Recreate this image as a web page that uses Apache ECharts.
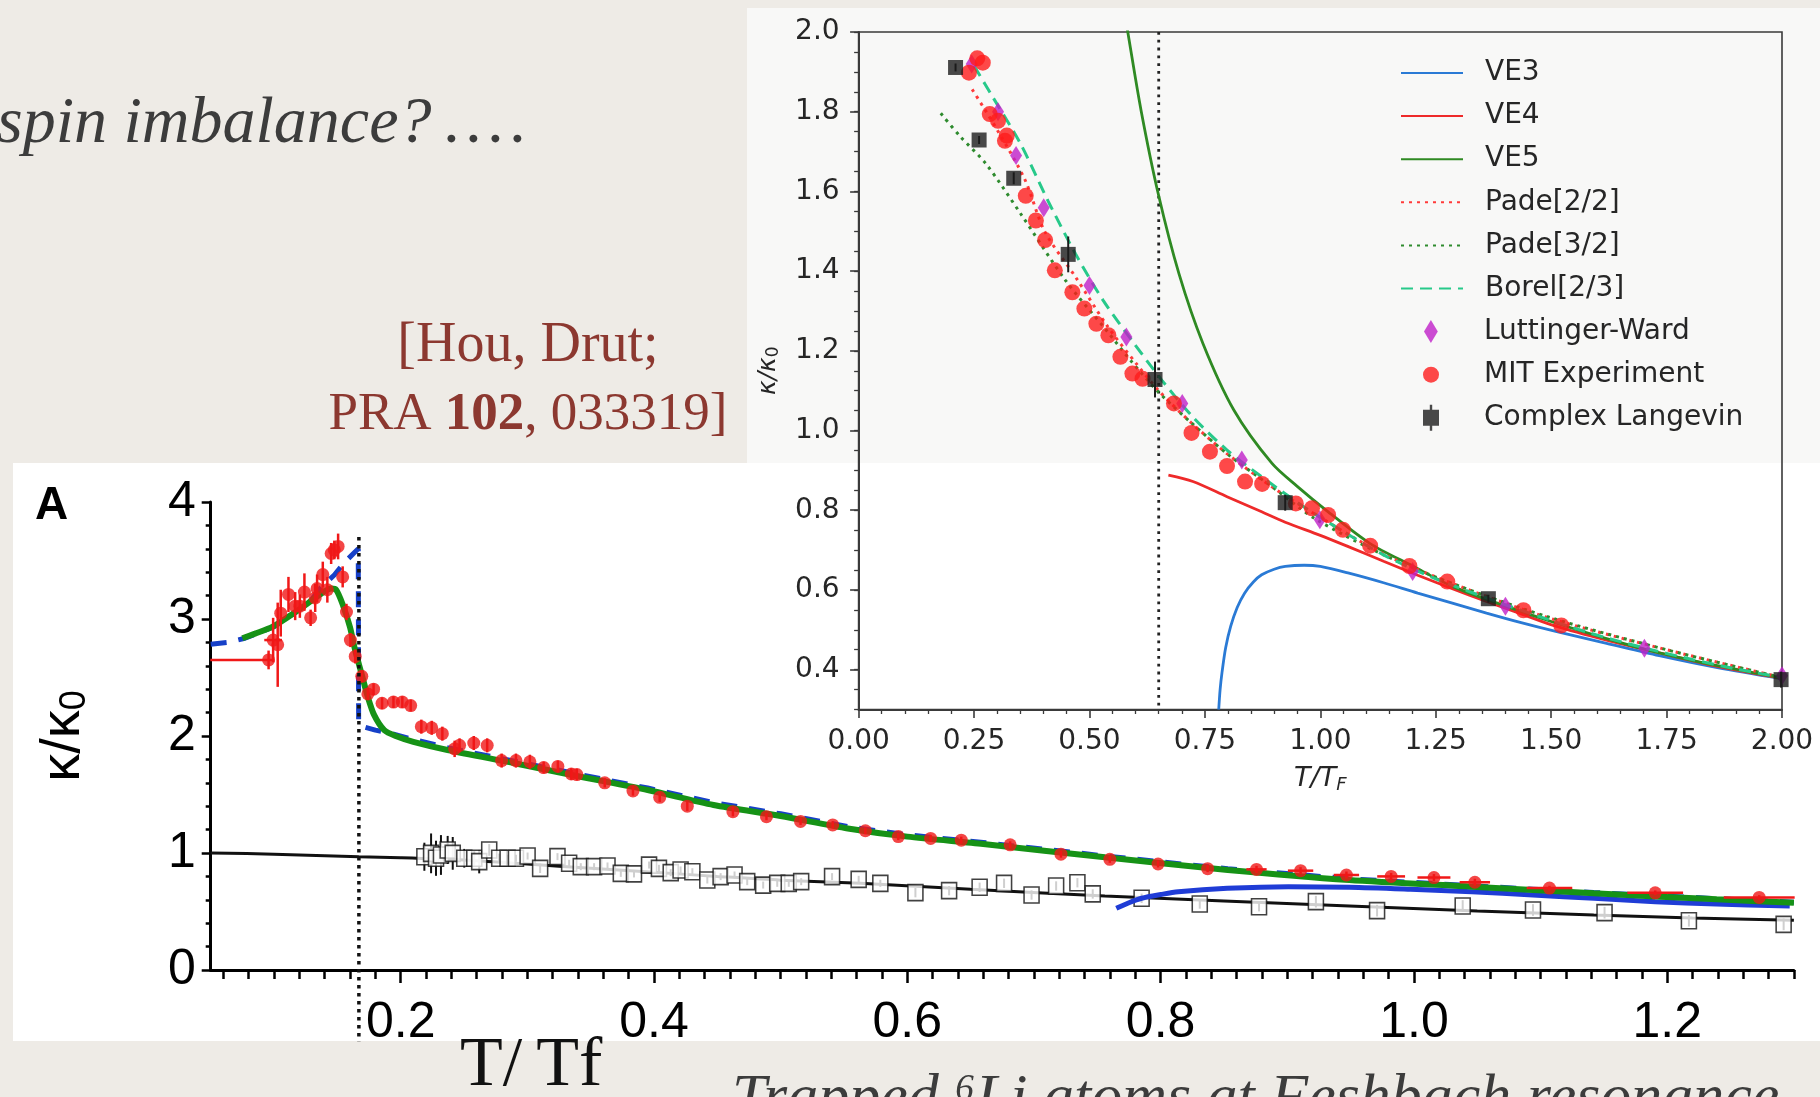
<!DOCTYPE html>
<html>
<head>
<meta charset="utf-8">
<script src="https://cdn.jsdelivr.net/npm/echarts@6/dist/echarts.min.js"></script>
<style>
  html, body { margin: 0; padding: 0; background: #eeebe6; }
  #chart { width: 1820px; height: 1097px; }
</style>
</head>
<body>
<div id="chart"></div>
<script>
// ---------- Panel A: kappa/kappa0 vs T/Tf (trapped gas) ----------
const mainXLabels = [0.2, 0.4, 0.6, 0.8, 1.0, 1.2];
const mainTc = 0.167;

// superfluid-side measurement (red points with error bars)
const expT = [0.0957, 0.0993, 0.1029, 0.1053, 0.1114, 0.1167, 0.1204, 0.124, 0.1289, 0.1325,
  0.134, 0.1385, 0.1421, 0.1451, 0.1476, 0.1506, 0.1542, 0.1572, 0.1603, 0.1641,
  0.1693, 0.1741, 0.1786, 0.1853, 0.1943, 0.2013, 0.2079, 0.2163, 0.2245, 0.2329,
  0.2426, 0.2465, 0.2577, 0.2683, 0.2797, 0.291, 0.302, 0.3129, 0.3241, 0.3347,
  0.3391, 0.3611, 0.3834, 0.4045, 0.4263, 0.4623, 0.4888, 0.5157, 0.5411, 0.5669,
  0.5929, 0.6184, 0.6426, 0.6812, 0.7213, 0.7599, 0.798, 0.8371, 0.8757, 0.9105,
  0.9467, 0.982, 1.0158, 1.0481, 1.107, 1.1905, 1.2726];
const expK = [2.65, 2.82, 2.78, 3.05, 3.21, 3.11, 3.11, 3.23, 3.01, 3.18,
  3.26, 3.38, 3.25, 3.56, 3.59, 3.62, 3.36, 3.06, 2.82, 2.68,
  2.51, 2.36, 2.40, 2.28, 2.29, 2.29, 2.26, 2.08, 2.07, 2.02,
  1.89, 1.92, 1.94, 1.92, 1.79, 1.79, 1.78, 1.73, 1.74, 1.675,
  1.67, 1.60, 1.53, 1.476, 1.40, 1.353, 1.31, 1.27, 1.24, 1.19,
  1.14, 1.125, 1.11, 1.07, 0.99, 0.946, 0.906, 0.866, 0.86, 0.849,
  0.812, 0.80, 0.79, 0.75, 0.70, 0.66, 0.62];
const expErrK = [0.08, 0.19, 0.36, 0.20, 0.15, 0.12, 0.10, 0.16, 0.07, 0.12,
  0.12, 0.11, 0.11, 0.09, 0.08, 0.11, 0.09, 0.07, 0.06, 0.06,
  0.05, 0.05, 0.05, 0.05, 0.05, 0.05, 0.05, 0.06, 0.06, 0.06,
  0.07, 0.06, 0.06, 0.06, 0.06, 0.06, 0.06, 0.05, 0.05, 0.05,
  0.05, 0.04, 0.04, 0.04, 0.04, 0.04, 0.03, 0.03, 0.03, 0.03,
  0.03, 0.03, 0.03, 0.03, 0.03, 0.03, 0.03, 0.03, 0.03, 0.03,
  0.03, 0.03, 0.03, 0.03, 0.02, 0.02, 0.02];
const expErrTLo = [0.046, 0.007, 0, 0, 0, 0, 0, 0, 0, 0,
  0, 0, 0, 0, 0, 0, 0, 0, 0, 0,
  0, 0, 0, 0, 0, 0, 0, 0, 0, 0,
  0, 0, 0, 0, 0, 0, 0, 0, 0, 0,
  0, 0, 0, 0, 0, 0, 0, 0, 0, 0,
  0, 0, 0, 0, 0, 0, 0, 0, 0.008, 0.01,
  0.01, 0.011, 0.013, 0.012, 0.018, 0.022, 0.028];
const expErrTHi = [0.003, 0.007, 0, 0, 0, 0, 0, 0, 0, 0,
  0, 0, 0, 0, 0, 0, 0, 0, 0, 0,
  0, 0, 0, 0, 0, 0, 0, 0, 0, 0,
  0, 0, 0, 0, 0, 0, 0, 0, 0, 0,
  0, 0, 0, 0, 0, 0, 0, 0, 0, 0,
  0, 0, 0, 0, 0, 0, 0, 0, 0.008, 0.01,
  0.01, 0.011, 0.013, 0.012, 0.018, 0.022, 0.028];

// normal-state reference (open squares) and its smooth curve
const sqT = [0.2187, 0.224, 0.2279, 0.2318, 0.2371, 0.2411, 0.2502, 0.2581, 0.262, 0.2699,
  0.2778, 0.2844, 0.291, 0.3002, 0.3101, 0.3238, 0.333, 0.3422, 0.3527, 0.3633,
  0.3738, 0.3842, 0.3961, 0.4039, 0.4132, 0.421, 0.4303, 0.4421, 0.4526, 0.4636,
  0.4736, 0.4862, 0.4973, 0.5064, 0.5162, 0.5406, 0.5616, 0.5787, 0.6064, 0.633,
  0.6571, 0.6764, 0.6981, 0.7175, 0.7343, 0.7464, 0.785, 0.8309, 0.8777, 0.9226,
  0.9709, 1.0385, 1.094, 1.1505, 1.2171, 1.2919];
const sqK = [0.968, 0.997, 0.955, 0.983, 1.026, 0.997, 0.955, 0.955, 0.926, 1.026,
  0.955, 0.955, 0.955, 0.974, 0.869, 0.969, 0.912, 0.883, 0.883, 0.889,
  0.826, 0.821, 0.897, 0.869, 0.832, 0.855, 0.84, 0.769, 0.798, 0.812,
  0.755, 0.726, 0.741, 0.741, 0.755, 0.798, 0.775, 0.741, 0.661, 0.678,
  0.707, 0.741, 0.641, 0.718, 0.746, 0.65, 0.613, 0.564, 0.541, 0.584,
  0.507, 0.547, 0.513, 0.49, 0.421, 0.39];
const sqErr = [0.12, 0.17, 0.15, 0.17, 0.12, 0.14, 0.08, 0.06, 0.10, 0.05,
  0.04, 0.03, 0.03, 0.03, 0.04, 0.03, 0.03, 0.03, 0.03, 0.03,
  0.03, 0.03, 0.03, 0.03, 0.03, 0.03, 0.03, 0.03, 0.03, 0.03,
  0.03, 0.03, 0.03, 0.03, 0.03, 0.03, 0.03, 0.03, 0.04, 0.04,
  0.04, 0.04, 0.04, 0.04, 0.04, 0.04, 0.04, 0.04, 0.04, 0.05,
  0.05, 0.05, 0.05, 0.05, 0.05, 0.05];
const normT = [0.05, 0.1, 0.167, 0.2, 0.25, 0.3, 0.35, 0.4, 0.45, 0.5, 0.563, 0.65, 0.756, 0.85, 0.949, 1.05, 1.142, 1.22, 1.3];
const normK = [1.0, 0.99, 0.968, 0.96, 0.94, 0.905, 0.87, 0.835, 0.8, 0.768, 0.741, 0.69, 0.632, 0.59, 0.547, 0.505, 0.47, 0.445, 0.425];

// theory curves in panel A
const fitT = [0.075, 0.085, 0.099, 0.117, 0.13, 0.139, 0.145, 0.149, 0.154, 0.16, 0.164, 0.169, 0.174, 0.179, 0.187, 0.196, 0.21, 0.237, 0.29, 0.342, 0.395, 0.447, 0.5, 0.553, 0.6, 0.66, 0.756, 0.853, 0.949, 1.046, 1.142, 1.239, 1.3];
const fitK = [2.835, 2.875, 2.934, 3.06, 3.16, 3.23, 3.26, 3.25, 3.13, 2.93, 2.735, 2.536, 2.336, 2.18, 2.05, 2.0, 1.95, 1.88, 1.767, 1.652, 1.538, 1.41, 1.316, 1.21, 1.14, 1.077, 0.963, 0.855, 0.769, 0.712, 0.655, 0.604, 0.575];
const dashT = [0.05, 0.063, 0.077, 0.1, 0.118, 0.13, 0.137, 0.1476, 0.155, 0.1641, 0.1665, 0.1668, 0.172, 0.18, 0.19, 0.21, 0.237, 0.29, 0.342, 0.395, 0.447, 0.5, 0.553, 0.6, 0.66, 0.756, 0.853, 0.949, 1.046, 1.142, 1.239, 1.3];
const dashK = [2.785, 2.80, 2.835, 2.935, 3.065, 3.17, 3.27, 3.376, 3.476, 3.575, 3.6, 2.11, 2.075, 2.05, 2.03, 1.97, 1.9, 1.785, 1.67, 1.555, 1.43, 1.335, 1.225, 1.155, 1.09, 0.975, 0.865, 0.78, 0.72, 0.662, 0.61, 0.58];
const highT = [0.765, 0.775, 0.785, 0.8, 0.814, 0.8526, 0.9009, 0.949, 0.9974, 1.0457, 1.094, 1.1422, 1.1905, 1.2388, 1.2967];
const highK = [0.527, 0.575, 0.613, 0.645, 0.669, 0.698, 0.712, 0.707, 0.69, 0.669, 0.641, 0.613, 0.584, 0.564, 0.547];

// ---------- Inset: kappa/kappa0 vs T/T_F (uniform gas) ----------
const insetYLabels = [0.4, 0.6, 0.8, 1.0, 1.2, 1.4, 1.6, 1.8, 2.0];
const insetTc = 0.65;

const ve3T = [0.78, 0.783, 0.787, 0.795, 0.806, 0.82, 0.836, 0.855, 0.873, 0.9, 0.924, 0.965, 1.0, 1.062, 1.137, 1.211, 1.286, 1.36, 1.435, 1.51, 1.62, 1.734, 1.86, 2.0];
const ve3K = [0.30, 0.35, 0.392, 0.455, 0.509, 0.556, 0.592, 0.62, 0.638, 0.652, 0.659, 0.662, 0.659, 0.642, 0.618, 0.592, 0.567, 0.542, 0.518, 0.496, 0.466, 0.435, 0.405, 0.377];
const ve4T = [0.671, 0.724, 0.798, 0.873, 0.924, 1.0, 1.062, 1.137, 1.211, 1.286, 1.36, 1.435, 1.51, 1.62, 1.734, 1.86, 2.0];
const ve4K = [0.888, 0.872, 0.834, 0.796, 0.770, 0.737, 0.708, 0.672, 0.637, 0.603, 0.571, 0.540, 0.509, 0.474, 0.442, 0.408, 0.378];
const ve5T = [0.57, 0.583, 0.612, 0.649, 0.694, 0.746, 0.813, 0.895, 0.95, 1.017, 1.107, 1.2, 1.286, 1.4, 1.51, 1.62, 1.734, 1.86, 2.0];
const ve5K = [2.09, 2.0, 1.802, 1.594, 1.393, 1.218, 1.051, 0.918, 0.86, 0.796, 0.717, 0.66, 0.609, 0.56, 0.517, 0.478, 0.442, 0.41, 0.379];
const pade22T = [0.246, 0.3, 0.36, 0.403, 0.47, 0.54, 0.6, 0.65, 0.72, 0.8, 0.9, 1.0, 1.137, 1.3, 1.5, 1.75, 2.0];
const pade22K = [1.856, 1.755, 1.63, 1.50, 1.385, 1.26, 1.17, 1.10, 1.02, 0.94, 0.855, 0.782, 0.69, 0.61, 0.528, 0.45, 0.38];
const pade32T = [0.178, 0.22, 0.276, 0.351, 0.448, 0.537, 0.589, 0.649, 0.72, 0.8, 0.9, 0.987, 1.137, 1.3, 1.5, 1.75, 2.0];
const pade32K = [1.796, 1.738, 1.669, 1.544, 1.377, 1.251, 1.176, 1.097, 1.02, 0.94, 0.855, 0.78, 0.688, 0.61, 0.53, 0.45, 0.38];
const borelT = [0.25, 0.291, 0.351, 0.41, 0.47, 0.53, 0.597, 0.657, 0.724, 0.798, 0.873, 0.95, 1.0, 1.137, 1.25, 1.36, 1.47, 1.584, 1.7, 1.808, 1.9, 2.0];
const borelK = [1.915, 1.836, 1.719, 1.577, 1.443, 1.326, 1.218, 1.126, 1.034, 0.951, 0.884, 0.82, 0.782, 0.688, 0.628, 0.58, 0.535, 0.492, 0.455, 0.425, 0.402, 0.38];
const lwT = [0.245, 0.302, 0.341, 0.401, 0.500, 0.580, 0.701, 0.830, 0.999, 1.200, 1.401, 1.702, 2.0];
const lwK = [1.92, 1.80, 1.690, 1.559, 1.364, 1.235, 1.068, 0.926, 0.776, 0.646, 0.559, 0.454, 0.385];
const mitT = [0.239, 0.257, 0.269, 0.284, 0.302, 0.317, 0.321, 0.362, 0.384, 0.404, 0.425, 0.463, 0.489, 0.515, 0.541, 0.567, 0.593, 0.615, 0.683, 0.721, 0.761, 0.798, 0.837, 0.874, 0.947, 0.982, 1.017, 1.049, 1.108, 1.193, 1.275, 1.44, 1.522];
const mitK = [1.898, 1.934, 1.923, 1.794, 1.777, 1.727, 1.740, 1.589, 1.527, 1.478, 1.402, 1.347, 1.306, 1.268, 1.239, 1.185, 1.143, 1.130, 1.068, 0.994, 0.947, 0.911, 0.872, 0.866, 0.817, 0.805, 0.788, 0.751, 0.711, 0.660, 0.621, 0.549, 0.511];
const clT = [0.210, 0.261, 0.336, 0.454, 0.642, 0.924, 1.364, 1.998];
const clK = [1.911, 1.729, 1.633, 1.442, 1.128, 0.819, 0.578, 0.375];
const clErr = [0.01, 0.01, 0.015, 0.045, 0.045, 0.02, 0.01, 0.02];

// ---------- helpers ----------
const zip = (a, b) => a.map((v, i) => [v, b[i]]);
const errRows = (t, k, tLo, tHi, kErr) => t.map((v, i) => [v, k[i], tLo ? tLo[i] : 0, tHi ? tHi[i] : 0, kErr[i]]);

function errRender(color, width) {
  return function (params, api) {
    const x = api.value(0), y = api.value(1);
    const xl = api.value(2), xh = api.value(3), ye = api.value(4);
    const kids = [];
    if (ye > 0) {
      const a = api.coord([x, y - ye]), b = api.coord([x, y + ye]);
      kids.push({ type: 'line', shape: { x1: a[0], y1: a[1], x2: b[0], y2: b[1] }, style: { stroke: color, lineWidth: width } });
    }
    if (xl > 0 || xh > 0) {
      const a = api.coord([x - xl, y]), b = api.coord([x + xh, y]);
      kids.push({ type: 'line', shape: { x1: a[0], y1: a[1], x2: b[0], y2: b[1] }, style: { stroke: color, lineWidth: width } });
    }
    return { type: 'group', children: kids };
  };
}

function vLine(color, width, dash) {
  return function (params, api) {
    const a = api.coord([api.value(0), api.value(1)]);
    const b = api.coord([api.value(0), api.value(2)]);
    return { type: 'line', shape: { x1: a[0], y1: a[1], x2: b[0], y2: b[1] }, style: { stroke: color, lineWidth: width, lineDash: dash } };
  };
}

// tick positions for panel A (every 0.02 along T/Tf)
const mainMinorTicks = [];
for (let i = 3; i <= 65; i++) mainMinorTicks.push(+(i * 0.02).toFixed(2));

const sansA = 'Liberation Sans, Arial, Helvetica, sans-serif';
const sansB = 'DejaVu Sans, sans-serif';
const serif = 'Liberation Serif, Times New Roman, serif';

const chart = echarts.init(document.getElementById('chart'), null, { renderer: 'canvas' });

const legendBase = {
  orient: 'vertical', left: 1400, itemWidth: 62, padding: 0, selectedMode: false,
  textStyle: { fontFamily: sansB, fontSize: 28, color: '#262626', lineHeight: 28, padding: [0, 0, 0, 17] }
};

const option = {
  animation: false,
  backgroundColor: '#eeebe6',
  graphic: [
    { type: 'rect', z: -5, shape: { x: 747, y: 8, width: 1073, height: 455 }, style: { fill: '#f8f8f7' } },
    { type: 'rect', z: -5, shape: { x: 13, y: 463, width: 1807, height: 578 }, style: { fill: '#ffffff' } },
    { type: 'text', z: 10, x: -3, y: 125, style: { text: 'spin imbalance?\u2009.\u200a.\u200a.\u200a.', fontFamily: serif, fontStyle: 'italic', fontSize: 66, fill: '#3c3c3c', align: 'left', verticalAlign: 'middle' } },
    { type: 'text', z: 10, x: 528, y: 346, style: { text: '[Hou, Drut;', fontFamily: serif, fontSize: 56, fill: '#8c3830', align: 'center', verticalAlign: 'middle' } },
    { type: 'text', z: 10, x: 528, y: 415, style: { text: 'PRA {b|102}, 033319]', fontFamily: serif, fontSize: 53, fill: '#8c3830', align: 'center', verticalAlign: 'middle',
        rich: { b: { fontFamily: serif, fontSize: 53, fontWeight: 'bold', fill: '#8c3830' } } } },
    { type: 'text', z: 10, x: 35, y: 506, style: { text: 'A', fontFamily: sansA, fontWeight: 'bold', fontSize: 46, fill: '#000', align: 'left', verticalAlign: 'middle' } },
    { type: 'text', z: 10, x: 460, y: 1067, style: { text: 'T/\u2009Tf', fontFamily: serif, fontSize: 70, fill: '#111', align: 'left', verticalAlign: 'middle' } },
    { type: 'text', z: 10, x: 732, y: 1100, style: { text: 'Trapped ⁶Li atoms at Feshbach resonance', fontFamily: serif, fontStyle: 'italic', fontSize: 62, fill: '#3c3c3c', align: 'left', verticalAlign: 'middle' } }
  ],
  legend: [
    Object.assign({}, legendBase, { top: 59, itemHeight: 16, itemGap: 15.1, itemStyle: { opacity: 0 },
      data: ['VE3', 'VE4', 'VE5', 'Pade[2/2]', 'Pade[3/2]', 'Borel[2/3]'] }),
    Object.assign({}, legendBase, { left: 1424, top: 317.6, itemHeight: 23, data: [{ name: 'Luttinger-Ward', icon: 'path://M0,-10L6,0L0,10L-6,0Z' }] }),
    Object.assign({}, legendBase, { left: 1423, top: 360.7, itemHeight: 16, data: [{ name: 'MIT Experiment', icon: 'circle' }] }),
    Object.assign({}, legendBase, { left: 1423, top: 403.8, itemHeight: 26, data: [{ name: 'Complex Langevin', icon: 'path://M-8,-8H8V8H-8Z M-1.2,-13H1.2V13H-1.2Z' }] })
  ],
  grid: [
    { left: 210.7, top: 502, width: 1583.2, height: 468, show: false },
    { left: 858.6, top: 32, width: 923.4, height: 677.5, show: true, borderColor: '#3a3a3a', borderWidth: 1.6, backgroundColor: 'transparent' }
  ],
  xAxis: [
    { // panel A, labels + minor ticks
      type: 'value', gridIndex: 0, min: 0.05, max: 1.3, position: 'bottom',
      axisLine: { show: true, lineStyle: { color: '#000', width: 3 } },
      axisTick: { show: true, customValues: mainMinorTicks, length: 9, lineStyle: { color: '#000', width: 2.5 } },
      axisLabel: { show: true, customValues: mainXLabels, formatter: v => v.toFixed(1), fontFamily: sansA, fontSize: 50, color: '#000', margin: 28 },
      splitLine: { show: false }
    },
    { // panel A, major ticks
      type: 'value', gridIndex: 0, min: 0.05, max: 1.3, position: 'bottom', offset: 0,
      axisLine: { show: false },
      axisTick: { show: true, customValues: mainXLabels, length: 13, lineStyle: { color: '#000', width: 2.5 } },
      axisLabel: { show: false },
      splitLine: { show: false }
    },
    { // inset
      type: 'value', gridIndex: 1, min: 0, max: 2, interval: 0.25, position: 'bottom',
      name: '{i|T/T}{s|F}', nameLocation: 'middle', nameGap: 53,
      nameTextStyle: { rich: { i: { fontFamily: sansB, fontStyle: 'italic', fontSize: 27, color: '#262626' }, s: { fontFamily: sansB, fontStyle: 'italic', fontSize: 18, color: '#262626', padding: [14, 0, 0, 0] } } },
      axisLine: { show: true, lineStyle: { color: '#3a3a3a', width: 2 } },
      axisTick: { show: true, length: 8.5, lineStyle: { color: '#3a3a3a', width: 1.6 } },
      minorTick: { show: true, splitNumber: 5, length: 4.5, lineStyle: { color: '#3a3a3a', width: 1.3 } },
      axisLabel: { formatter: v => v.toFixed(2), fontFamily: sansB, fontSize: 28, color: '#262626', margin: 18 },
      splitLine: { show: false }
    }
  ],
  yAxis: [
    { // panel A
      type: 'value', gridIndex: 0, min: 0, max: 4, interval: 1, position: 'left',
      name: '{k|κ/κ}{s|0}', nameLocation: 'middle', nameRotate: 90, nameGap: 118,
      nameTextStyle: { rich: { k: { fontFamily: sansA, fontSize: 56, color: '#000' }, s: { fontFamily: sansA, fontSize: 36, color: '#000', padding: [22, 0, 0, 0] } } },
      axisLine: { show: true, lineStyle: { color: '#000', width: 3 } },
      axisTick: { show: true, length: 9, lineStyle: { color: '#000', width: 2.5 } },
      minorTick: { show: true, splitNumber: 5, length: 5, lineStyle: { color: '#000', width: 2.5 } },
      axisLabel: { fontFamily: sansA, fontSize: 50, color: '#000', margin: 15 },
      splitLine: { show: false }
    },
    { // inset, labelled ticks
      type: 'value', gridIndex: 1, min: 0.3, max: 2.0, position: 'left',
      name: '{k|κ/κ}{s|0}', nameLocation: 'middle', nameRotate: 90, nameGap: 77,
      nameTextStyle: { rich: { k: { fontFamily: sansB, fontStyle: 'italic', fontSize: 25, color: '#262626' }, s: { fontFamily: sansB, fontSize: 17, color: '#262626', padding: [10, 0, 0, 0] } } },
      axisLine: { show: true, lineStyle: { color: '#3a3a3a', width: 2 } },
      axisTick: { show: true, customValues: insetYLabels, length: 8.5, lineStyle: { color: '#3a3a3a', width: 1.6 } },
      axisLabel: { customValues: insetYLabels, formatter: v => v.toFixed(1), fontFamily: sansB, fontSize: 28, color: '#262626', margin: 19 },
      splitLine: { show: false }
    },
    { // inset, minor ticks
      type: 'value', gridIndex: 1, min: 0.3, max: 2.0, interval: 0.05, position: 'left', offset: 0,
      axisLine: { show: false },
      axisTick: { show: true, length: 4.5, lineStyle: { color: '#3a3a3a', width: 1.3 } },
      axisLabel: { show: false },
      splitLine: { show: false }
    }
  ],
  series: [
    // ----- panel A -----
    { name: 'normal curve', type: 'line', xAxisIndex: 0, yAxisIndex: 0, data: zip(normT, normK), symbol: 'none', smooth: 0.3,
      lineStyle: { color: '#111', width: 3 }, z: 2, silent: true },
    { name: 'normal err', type: 'custom', xAxisIndex: 0, yAxisIndex: 0, data: errRows(sqT, sqK, null, null, sqErr), renderItem: errRender('#111', 2), z: 3, silent: true },
    { name: 'normal data', type: 'scatter', xAxisIndex: 0, yAxisIndex: 0, data: zip(sqT, sqK), symbol: 'rect', symbolSize: [15, 16],
      itemStyle: { color: '#ffffff', borderColor: '#111', borderWidth: 1.6 }, z: 4, silent: true },
    { name: 'high-T theory', type: 'line', xAxisIndex: 0, yAxisIndex: 0, data: zip(highT, highK), symbol: 'none', smooth: 0.3,
      lineStyle: { color: '#1f3cd6', width: 5 }, z: 5, silent: true },
    { name: 'dashed theory', type: 'line', xAxisIndex: 0, yAxisIndex: 0, data: zip(dashT, dashK), symbol: 'none',
      lineStyle: { color: '#1640c8', width: 5, type: [16, 12] }, z: 5, silent: true },
    { name: 'solid theory', type: 'line', xAxisIndex: 0, yAxisIndex: 0, data: zip(fitT, fitK), symbol: 'none', smooth: 0.25,
      lineStyle: { color: '#169216', width: 6 }, z: 6, silent: true },
    { name: 'exp err', type: 'custom', xAxisIndex: 0, yAxisIndex: 0, data: errRows(expT, expK, expErrTLo, expErrTHi, expErrK), renderItem: errRender('#f01818', 2.5), z: 7, silent: true },
    { name: 'exp data', type: 'scatter', xAxisIndex: 0, yAxisIndex: 0, data: zip(expT, expK), symbol: 'circle', symbolSize: 13,
      itemStyle: { color: '#f01818' }, z: 8, silent: true },
    { name: 'Tc main', type: 'custom', xAxisIndex: 0, yAxisIndex: 0, data: [[mainTc, 3.7, -0.61]], renderItem: vLine('#111', 3.5, [3.5, 4.5]), clip: false, z: 9, silent: true },

    // ----- inset -----
    { name: 'Tc inset', type: 'custom', xAxisIndex: 2, yAxisIndex: 1, data: [[insetTc, 2.0, 0.3]], renderItem: vLine('#222', 2.8, [2.8, 5]), z: 3, silent: true },
    { name: 'VE3', type: 'line', xAxisIndex: 2, yAxisIndex: 1, data: zip(ve3T, ve3K), symbol: 'none', smooth: 0.3,
      color: '#2a7ad5', lineStyle: { color: '#2a7ad5', width: 2.8 }, z: 4, silent: true },
    { name: 'VE4', type: 'line', xAxisIndex: 2, yAxisIndex: 1, data: zip(ve4T, ve4K), symbol: 'none', smooth: 0.3,
      color: '#ee2a2a', lineStyle: { color: '#ee2a2a', width: 2.8 }, z: 4, silent: true },
    { name: 'VE5', type: 'line', xAxisIndex: 2, yAxisIndex: 1, data: zip(ve5T, ve5K), symbol: 'none', smooth: 0.3,
      color: '#2f8a23', lineStyle: { color: '#2f8a23', width: 2.8 }, z: 4, silent: true },
    { name: 'Pade[2/2]', type: 'line', xAxisIndex: 2, yAxisIndex: 1, data: zip(pade22T, pade22K), symbol: 'none', smooth: 0.3,
      color: '#ff3a3a', lineStyle: { color: '#ff3a3a', width: 3, type: [3, 5] }, z: 4, silent: true },
    { name: 'Pade[3/2]', type: 'line', xAxisIndex: 2, yAxisIndex: 1, data: zip(pade32T, pade32K), symbol: 'none', smooth: 0.3,
      color: '#2e8b2e', lineStyle: { color: '#2e8b2e', width: 3, type: [3, 5] }, z: 4, silent: true },
    { name: 'Borel[2/3]', type: 'line', xAxisIndex: 2, yAxisIndex: 1, data: zip(borelT, borelK), symbol: 'none', smooth: 0.3,
      color: '#27c98a', lineStyle: { color: '#27c98a', width: 3, type: [12, 7] }, z: 4, silent: true },
    { name: 'Luttinger-Ward', type: 'scatter', xAxisIndex: 2, yAxisIndex: 1, data: zip(lwT, lwK), symbol: 'diamond', symbolSize: [12, 19],
      itemStyle: { color: '#bf1fc8' }, color: '#bf1fc8', z: 5, silent: true },
    { name: 'MIT Experiment', type: 'scatter', xAxisIndex: 2, yAxisIndex: 1, data: zip(mitT, mitK), symbol: 'circle', symbolSize: 16,
      itemStyle: { color: '#fe1c1c' }, color: '#fe1c1c', z: 6, silent: true },
    { name: 'CL err', type: 'custom', xAxisIndex: 2, yAxisIndex: 1, data: errRows(clT, clK, null, null, clErr), renderItem: errRender('#1b1b1b', 2), z: 7, silent: true },
    { name: 'Complex Langevin', type: 'scatter', xAxisIndex: 2, yAxisIndex: 1, data: zip(clT, clK), symbol: 'rect', symbolSize: 15,
      itemStyle: { color: '#1b1b1b' }, color: '#1b1b1b', z: 8, silent: true }
  ]
};

chart.setOption(option);
</script>
</body>
</html>
